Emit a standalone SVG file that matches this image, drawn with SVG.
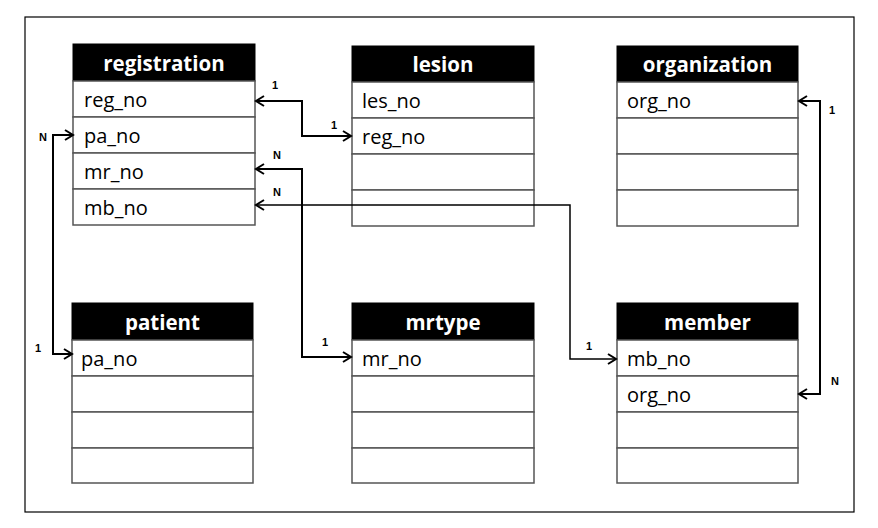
<svg xmlns="http://www.w3.org/2000/svg" width="878" height="528" viewBox="0 0 878 528">
<style>
.frame{fill:#fff;stroke:#000;stroke-width:1.2}
.hdr{fill:#000;stroke:#000;stroke-width:1}
.row{fill:#fff;stroke:#555;stroke-width:1.5}
.ht{font-family:"Open Sans","Noto Sans",sans-serif;font-weight:bold;font-size:20.5px;fill:#fff;text-anchor:middle}
.ft{font-family:"Open Sans","Noto Sans",sans-serif;font-size:20px;fill:#000}
.lb{font-family:"Liberation Sans","DejaVu Sans",sans-serif;font-weight:bold;font-size:11px;fill:#000;text-anchor:middle}
.cn{fill:none;stroke:#000;stroke-width:2}
</style>
<defs>
<marker id="ar" markerUnits="userSpaceOnUse" markerWidth="12" markerHeight="12" refX="9" refY="6" orient="auto-start-reverse" viewBox="0 0 12 12">
<path d="M1,1 L9,6 L1,11" fill="none" stroke="#000" stroke-width="2"/>
</marker>
</defs>
<rect x="0" y="0" width="878" height="528" fill="#fff"/>
<rect class="frame" x="25" y="17" width="829" height="495"/>

<g id="registration">
<rect class="hdr" x="73" y="44" width="182" height="37"/>
<text class="ht" x="164" y="71">registration</text>
<rect class="row" x="73" y="81" width="182" height="36"/>
<rect class="row" x="73" y="117" width="182" height="36"/>
<rect class="row" x="73" y="153" width="182" height="36"/>
<rect class="row" x="73" y="189" width="182" height="36"/>
<text class="ft" x="84" y="107">reg_no</text>
<text class="ft" x="84" y="143">pa_no</text>
<text class="ft" x="84" y="179">mr_no</text>
<text class="ft" x="84" y="215">mb_no</text>
</g>

<g id="lesion">
<rect class="hdr" x="352" y="46" width="182" height="36"/>
<text class="ht" x="443" y="72">lesion</text>
<rect class="row" x="352" y="82" width="182" height="36"/>
<rect class="row" x="352" y="118" width="182" height="36"/>
<rect class="row" x="352" y="154" width="182" height="36"/>
<rect class="row" x="352" y="190" width="182" height="36"/>
<text class="ft" x="362" y="108">les_no</text>
<text class="ft" x="362" y="144">reg_no</text>
</g>

<g id="organization">
<rect class="hdr" x="617" y="46" width="181" height="36"/>
<text class="ht" x="707.5" y="72">organization</text>
<rect class="row" x="617" y="82" width="181" height="36"/>
<rect class="row" x="617" y="118" width="181" height="36"/>
<rect class="row" x="617" y="154" width="181" height="36"/>
<rect class="row" x="617" y="190" width="181" height="36"/>
<text class="ft" x="627" y="108">org_no</text>
</g>

<g id="patient">
<rect class="hdr" x="72" y="303" width="181" height="37"/>
<text class="ht" x="162.5" y="330">patient</text>
<rect class="row" x="72" y="340" width="181" height="36"/>
<rect class="row" x="72" y="376" width="181" height="36"/>
<rect class="row" x="72" y="412" width="181" height="36"/>
<rect class="row" x="72" y="448" width="181" height="35"/>
<text class="ft" x="81" y="366">pa_no</text>
</g>

<g id="mrtype">
<rect class="hdr" x="352" y="303" width="182" height="37"/>
<text class="ht" x="443" y="330">mrtype</text>
<rect class="row" x="352" y="340" width="182" height="36"/>
<rect class="row" x="352" y="376" width="182" height="36"/>
<rect class="row" x="352" y="412" width="182" height="36"/>
<rect class="row" x="352" y="448" width="182" height="35"/>
<text class="ft" x="362" y="366">mr_no</text>
</g>

<g id="member">
<rect class="hdr" x="617" y="303" width="181" height="37"/>
<text class="ht" x="707.5" y="330">member</text>
<rect class="row" x="617" y="340" width="181" height="36"/>
<rect class="row" x="617" y="376" width="181" height="36"/>
<rect class="row" x="617" y="412" width="181" height="36"/>
<rect class="row" x="617" y="448" width="181" height="35"/>
<text class="ft" x="627" y="366">mb_no</text>
<text class="ft" x="627" y="402">org_no</text>
</g>

<g id="connectors">
<path class="cn" d="M351,136 H302 V101 H256" marker-start="url(#ar)" marker-end="url(#ar)"/>
<path class="cn" d="M72,354 H53 V135 H73" marker-start="url(#ar)" marker-end="url(#ar)"/>
<path class="cn" d="M351,357 H302 V169 H256" marker-start="url(#ar)" marker-end="url(#ar)"/>
<path class="cn" d="M616,359 H570 V205 H256" marker-start="url(#ar)" marker-end="url(#ar)" style="stroke-width:1.5"/>
<path class="cn" d="M799,394 H820 V101 H799" marker-start="url(#ar)" marker-end="url(#ar)"/>
<text class="lb" x="275" y="89">1</text>
<text class="lb" x="334" y="129">1</text>
<text class="lb" x="43" y="141">N</text>
<text class="lb" x="38" y="352">1</text>
<text class="lb" x="277" y="159">N</text>
<text class="lb" x="325" y="346">1</text>
<text class="lb" x="277" y="196">N</text>
<text class="lb" x="589" y="350">1</text>
<text class="lb" x="832" y="114">1</text>
<text class="lb" x="835" y="385">N</text>
</g>
</svg>
